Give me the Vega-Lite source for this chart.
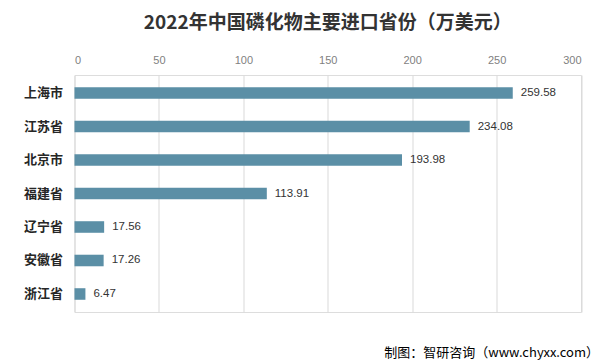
{
  "$schema": "https://vega.github.io/schema/vega-lite/v6.json",
  "autosize": {"type": "none"},
  "width": 506.5,
  "height": 237,
  "padding": {"left": 74.5, "top": 75, "right": 24, "bottom": 51},
  "background": "#ffffff",
  "title": {
    "text": "2022年中国磷化物主要进口省份（万美元）",
    "font": "Noto Sans CJK SC",
    "fontSize": 19,
    "fontWeight": "bold",
    "color": "#333333",
    "anchor": "middle",
    "offset": 21
  },
  "data": {
    "values": [
      {"province": "上海市", "value": 259.58},
      {"province": "江苏省", "value": 234.08},
      {"province": "北京市", "value": 193.98},
      {"province": "福建省", "value": 113.91},
      {"province": "辽宁省", "value": 17.56},
      {"province": "安徽省", "value": 17.26},
      {"province": "浙江省", "value": 6.47}
    ]
  },
  "resolve": {"scale": {"x": "independent"}, "axis": {"x": "independent"}},
  "layer": [
    {
      "encoding": {
        "y": {
          "field": "province",
          "type": "nominal",
          "sort": null,
          "scale": {"paddingInner": 0.655, "paddingOuter": 0.365},
          "axis": {
            "title": null,
            "ticks": false,
            "domain": false,
            "labelPadding": 12,
            "labelFont": "Noto Sans CJK SC",
            "labelFontSize": 13,
            "labelFontWeight": "bold",
            "labelColor": "#262626"
          }
        },
        "x": {
          "field": "value",
          "type": "quantitative",
          "scale": {"domain": [0, 300], "nice": false},
          "axis": {
            "orient": "top",
            "title": null,
            "values": [0, 50, 100, 150, 200, 250, 300],
            "ticks": false,
            "domain": false,
            "grid": true,
            "gridColor": "#d9d9d9",
            "gridWidth": 1,
            "labelPadding": 10,
            "labelFont": "Liberation Sans",
            "labelFontSize": 11,
            "labelColor": "#7f7f7f"
          }
        }
      },
      "layer": [
        {"mark": {"type": "bar", "color": "#5b8fa6"}},
        {
          "mark": {
            "type": "text",
            "align": "left",
            "baseline": "middle",
            "dx": 8,
            "font": "Liberation Sans",
            "fontSize": 11.5,
            "color": "#333333"
          },
          "encoding": {"text": {"field": "value", "type": "quantitative", "format": ".2f"}}
        }
      ]
    },
    {
      "mark": {"type": "point", "opacity": 0},
      "encoding": {
        "x": {
          "field": "value",
          "type": "quantitative",
          "axis": {
            "orient": "bottom",
            "title": "制图：智研咨询（www.chyxx.com）",
            "titleFont": "Noto Sans CJK SC",
            "titleFontSize": 13,
            "titleFontWeight": "normal",
            "titleColor": "#000000",
            "titleAnchor": "end",
            "titleAlign": "right",
            "titleBaseline": "middle",
            "titleX": 524,
            "titleY": 40,
            "labels": false,
            "ticks": false,
            "domain": false,
            "grid": false
          }
        }
      }
    }
  ]
}
